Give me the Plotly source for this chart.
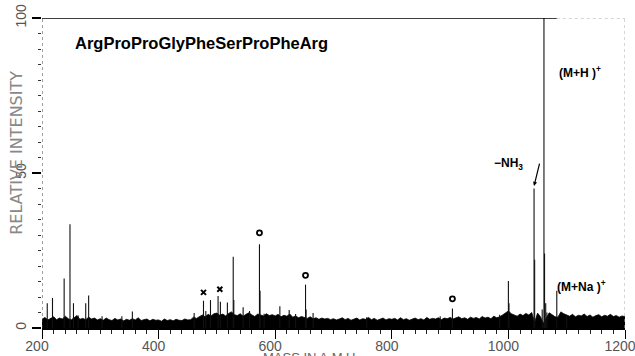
import plotly.graph_objects as go

# ---- data ----
peak_mass = [209, 218, 238, 248, 254, 262, 275, 280, 303, 337, 355,
             461, 477, 481, 489, 502, 506, 518, 528, 529, 545, 556,
             573, 574, 581, 608, 624, 635, 652, 653, 665, 757, 883, 904,
             985, 1000, 1001, 1044, 1045, 1058, 1061, 1062, 1064, 1066, 1083, 1100]
peak_int = [8.0, 9.7, 16.0, 33.5, 8.0, 4.0, 8.0, 10.5, 3.8, 3.8, 5.3,
            4.8, 8.8, 5.5, 9.0, 10.3, 8.5, 8.2, 23.0, 9.0, 6.7, 5.5,
            27.0, 12.0, 4.6, 7.0, 5.8, 4.5, 14.0, 6.0, 4.8, 3.5, 3.8, 6.3,
            4.3, 15.2, 8.0, 45.0, 22.0, 6.0, 100.0, 24.0, 8.0, 5.0, 12.0, 4.0]

noise_start = 200
noise_step = 5
noise_level = [
    2.8, 3.4, 2.6, 3.1, 3.6, 2.7, 3.2, 2.9, 3.8, 3.0, 2.6, 3.3, 4.0, 2.8, 3.1, 2.7, 3.5, 2.9, 3.2, 2.6,
    3.0, 2.5, 3.2, 2.7, 2.4, 3.1, 2.6, 2.9, 2.3, 2.8, 2.5, 3.0, 2.6, 3.3, 2.4, 2.7, 2.9, 2.3, 2.8, 2.5,
    2.6, 2.2, 2.9, 2.4, 2.7, 2.3, 2.8, 2.5, 2.4, 2.9, 2.6, 2.7, 3.5, 3.1, 3.8, 4.2, 3.6, 4.4, 3.9, 4.6,
    4.8, 4.1, 4.5, 3.9, 4.7, 5.2, 4.3, 4.0, 4.6, 3.8, 4.4, 4.9, 4.2, 3.7, 4.5, 4.1, 3.9, 4.6, 4.0, 4.3,
    3.9, 4.4, 3.6, 4.1, 3.8, 4.5, 3.5, 3.9, 3.3, 3.7, 3.4, 3.1, 3.6, 3.0, 3.3, 2.8, 3.2, 2.9, 3.1, 2.7,
    3.0, 2.6, 2.9, 3.3, 2.7, 3.1, 2.5, 2.9, 3.2, 2.6, 3.0, 2.8, 3.4, 2.7, 3.1, 2.5, 2.9, 3.2, 2.6, 3.0,
    2.8, 3.1, 2.6, 3.3, 2.7, 3.0, 2.5, 2.9, 3.2, 2.7, 3.0, 2.6, 3.4, 2.8, 3.1, 2.9, 3.3, 2.7, 3.2, 3.0,
    3.4, 2.9, 3.2, 3.6, 3.0, 3.3, 2.8, 3.5, 3.1, 3.4, 2.9, 3.7, 3.2, 3.5, 3.0, 3.8, 3.3, 3.6, 4.2, 4.8,
    5.5, 4.6, 4.1, 3.8, 4.5, 4.0, 4.7, 4.2, 5.0, 1.8, 4.8, 3.6, 1.5, 3.0, 4.9, 4.3, 3.6, 3.5, 5.2, 4.6,
    4.2, 3.8, 4.4, 3.6, 4.1, 3.9, 4.5, 3.7, 4.2, 3.5, 4.0, 4.3, 3.6, 4.1, 3.8, 4.4, 3.7, 4.0, 3.5, 3.9,
    3.6]

x_mark_mass = [477, 505]
x_mark_int = [11.5, 12.5]
o_mark_mass = [573, 652, 904]
o_mark_int = [30.7, 17.0, 9.4]

x_ticks = [200, 400, 600, 800, 1000, 1200]
y_ticks = [0, 50, 100]

# ---- build figure ----
noise_mass = [noise_start + i * noise_step for i in range(len(noise_level))]

stick_x, stick_y = [], []
for m, h in zip(peak_mass, peak_int):
    stick_x += [m, m, None]
    stick_y += [0, h, None]

fig = go.Figure()
fig.add_trace(go.Scatter(x=noise_mass, y=noise_level, mode="lines",
                         line=dict(color="black", width=0.8),
                         fill="tozeroy", fillcolor="black", hoverinfo="skip"))
fig.add_trace(go.Scatter(x=stick_x, y=stick_y, mode="lines",
                         line=dict(color="#111111", width=1.1), hoverinfo="skip"))
fig.add_trace(go.Scatter(x=x_mark_mass, y=x_mark_int, mode="markers",
                         marker=dict(symbol="x-thin-open", size=5, color="black",
                                     line=dict(color="black", width=2))))
fig.add_trace(go.Scatter(x=o_mark_mass, y=o_mark_int, mode="markers",
                         marker=dict(symbol="circle-open", size=5, color="black",
                                     line=dict(color="black", width=1.8))))

font = "Liberation Sans"
fig.update_layout(
    width=635, height=356,
    margin=dict(l=42, r=10, t=18, b=28),
    paper_bgcolor="white", plot_bgcolor="white",
    showlegend=False,
    xaxis=dict(range=[200, 1200], tickmode="array", tickvals=x_ticks,
               automargin=False, ticklabeloverflow="allow",
               ticks="outside", ticklen=9, tickwidth=1, tickcolor="black",
               minor=dict(ticks="outside", ticklen=4, tickwidth=1, tickcolor="#222",
                          tickmode="linear", tick0=200, dtick=20),
               showline=True, linecolor="black", linewidth=1.5,
               showgrid=False, zeroline=False,
               ticklabelstandoff=-5, ticklabelshift=-5,
               tickfont=dict(family=font, size=14, color="#555")),
    yaxis=dict(range=[0, 100], tickmode="array", tickvals=y_ticks,
               automargin=False, ticklabeloverflow="allow",
               ticks="outside", ticklen=9, tickwidth=2, tickcolor="black",
               minor=dict(ticks="outside", ticklen=3, tickwidth=1, tickcolor="#333",
                          tickmode="linear", tick0=0, dtick=5),
               showline=False, showgrid=False, zeroline=False, tickangle=-90,
               tickfont=dict(family=font, size=14, color="#555")),
    shapes=[
        dict(type="line", xref="x", yref="y", x0=200, x1=200, y0=0, y1=100,
             line=dict(color="#444", width=1, dash="dot")),
        dict(type="line", xref="x", yref="y", x0=1200, x1=1200, y0=0, y1=100,
             line=dict(color="#aaa", width=1, dash="dot")),
        dict(type="line", xref="x", yref="y", x0=200, x1=1083, y0=100, y1=100,
             line=dict(color="black", width=1.3)),
        dict(type="line", xref="x", yref="y", x0=1083, x1=1200, y0=100, y1=100,
             line=dict(color="#aaa", width=1, dash="dot")),
    ],
    annotations=[
        dict(text="ArgProProGlyPheSerProPheArg", xref="x", yref="y", x=253, y=92,
             xanchor="left", yanchor="middle", showarrow=False,
             font=dict(family=font, size=16.5, color="black", weight="bold")),
        dict(text="(M+H )<sup>+</sup>", xref="x", yref="y", x=1123, y=82.6,
             xanchor="center", yanchor="middle", showarrow=False,
             font=dict(family=font, size=12, color="black", weight="bold")),
        dict(text="−NH<sub>3</sub>", xref="x", yref="y", x=1028, y=53,
             xanchor="right", yanchor="middle", showarrow=False,
             font=dict(family=font, size=12, color="black", weight="bold")),
        dict(text="(M+Na )<sup>+</sup>", xref="x", yref="y", x=1126, y=13.5,
             xanchor="center", yanchor="middle", showarrow=False,
             font=dict(family=font, size=12, color="black", weight="bold")),
        dict(text="", xref="x", yref="y", x=1044, y=45.8, axref="x", ayref="y",
             ax=1054, ay=53.5, showarrow=True, arrowhead=2, arrowsize=0.7,
             arrowwidth=1.2, arrowcolor="black"),
        dict(text="RELATIVE INTENSITY", xref="paper", yref="paper",
             x=-0.043, y=0.565, textangle=-90, showarrow=False,
             xanchor="center", yanchor="middle",
             font=dict(family="DejaVu Sans", size=16, color="#888")),
        dict(text="MASS IN A.M.U.", xref="paper", yref="paper",
             x=0.461, y=-0.066, showarrow=False, xanchor="center", yanchor="top",
             font=dict(family=font, size=13, color="#666")),
    ],
)

fig.write_html("out.html", config={"displayModeBar": False},
               post_script="document.body.style.margin='0px';"
                           "document.body.style.overflow='hidden';")
